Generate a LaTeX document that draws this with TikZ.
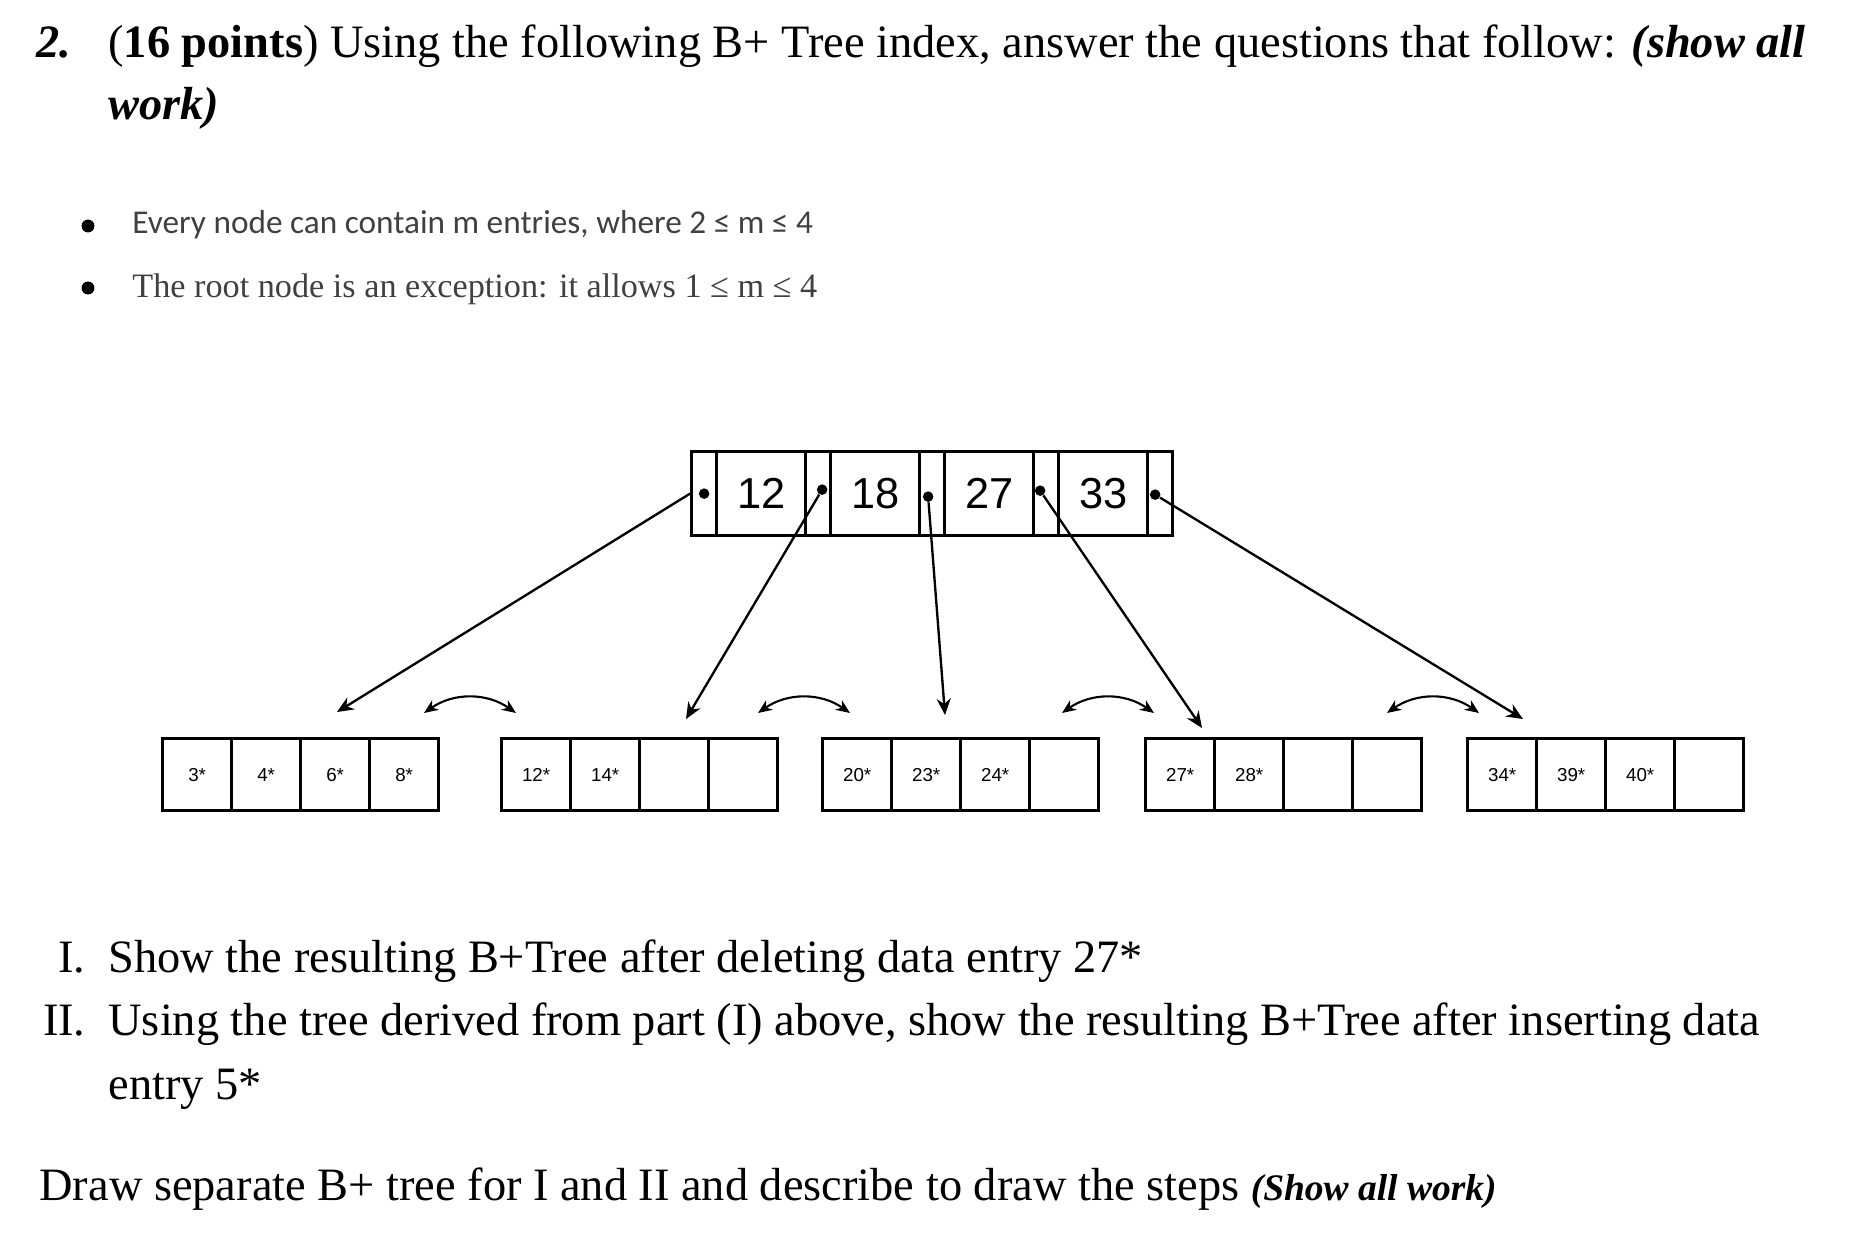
\documentclass[tikz,border=0pt]{standalone}
\usepackage{fontspec}
\setmainfont{Liberation Serif}
\newfontfamily\arialf{Liberation Sans}
\newfontfamily\calf{Carlito}
\usetikzlibrary{arrows.meta,calc}
\begin{document}
\begin{tikzpicture}[x=0.015cm,y=-0.015cm,
  txt/.style={anchor=base west,inner sep=0,font=\fontsize{19.8}{23}\selectfont},
  bul/.style={anchor=base west,inner sep=0,text=black!75,font=\fontsize{14.6}{17}\selectfont},
  cell/.style={draw,line width=1.4pt,minimum height=72*0.015cm,inner sep=0,anchor=north west,font=\arialf\fontsize{8}{9}\selectfont},
  rcell/.style={draw,line width=1.4pt,minimum height=84*0.015cm,inner sep=0,anchor=north west,font=\arialf\fontsize{18.5}{22}\selectfont},
  ptr/.style={-{Stealth[length=7pt,width=6pt]},line width=1pt},
  sib/.style={{Stealth[length=6pt,width=5pt]}-{Stealth[length=6pt,width=5pt]},line width=0.9pt},
  dot/.style={circle,fill,inner sep=0,minimum size=4.5pt}]
\useasboundingbox (0,0) rectangle (1866,1240);
% title
\node[txt,font=\fontsize{19.8}{23}\selectfont\bfseries\itshape] (n2) at (36,58) {2.};
\node[txt] (t1) at (108,58) {(\textbf{16 points}) Using the following B+ Tree index, answer the questions that follow: \textbf{\textit{(show all}}};
\node[txt] (t2) at (108,120) {\textbf{\textit{work)}}};
% bullets
\node[dot,minimum size=5.5pt] (b1) at (88,226) {};
\node[bul,font=\calf\fontsize{14.2}{17}\selectfont] (bt1) at (132,234) {Every node can contain m entries, where 2 ≤ m ≤ 4};
\node[dot,minimum size=5.5pt] (b2) at (88,288) {};
\node[bul] (bt2) at (132,297) {The root node is an exception: it allows 1 ≤ m ≤ 4};
% root node
\def\rx{690}
\foreach \i/\k in {0/12,1/18,2/27,3/33}{
  \node[rcell,minimum width=25*0.015cm] (p\i) at ({\rx+\i*114},450) {};
  \node[rcell,minimum width=89*0.015cm] (k\i) at ({\rx+25+\i*114},450) {\k};
}
\node[rcell,minimum width=25*0.015cm] (p4) at ({\rx+4*114},450) {};
\node[dot] (d0) at (p0.center) {};
\path (p1.center) ++(4,-4) node[dot] (d1) {};
\path (p2.center) ++(-4,3) node[dot] (d2) {};
\path (p3.center) ++(-6,-3) node[dot] (d3) {};
\path (p4.center) ++(-5,1) node[dot] (d4) {};
% leaves
\foreach \l/\x/\a/\b/\c/\d in {1/161/3*/4*/6*/8*, 2/500/12*/14*//, 3/821/20*/23*/24*/, 4/1144/27*/28*//, 5/1466/34*/39*/40*/}{
  \node[cell,minimum width=69*0.015cm] (l\l a) at (\x,737) {\a};
  \node[cell,minimum width=69*0.015cm] (l\l b) at (\x+69,737) {\b};
  \node[cell,minimum width=69*0.015cm] (l\l c) at (\x+138,737) {\c};
  \node[cell,minimum width=69*0.015cm] (l\l d) at (\x+207,737) {\d};
}
\coordinate (e1) at (337,712);
\coordinate (e2) at (686,719);
\coordinate (e3) at (945,715);
\coordinate (e4) at (1202,728);
\coordinate (e5) at (1523,719);
\draw[ptr] (p0.west|-d0) -- (e1);
\draw[ptr] (d1) -- (e2);
\draw[ptr] (d2) -- (e3);
\draw[ptr] (d3) -- (e4);
\draw[ptr] (d4) -- (e5);
\foreach \c/\n in {470/s1,804/s2,1108/s3,1433/s4}{
  \coordinate (\n a) at (\c-46,713);
  \coordinate (\n b) at (\c+46,713);
  \draw[sib] (\n a) to[bend left=35] (\n b);
}
% questions
\node[txt,anchor=base east] (q1n) at (86,972) {I.};
\node[txt] (q1) at (108,972) {Show the resulting B+Tree after deleting data entry 27*};
\node[txt,anchor=base east] (q2n) at (86,1035) {II.};
\node[txt] (q2) at (108,1035) {Using the tree derived from part (I) above, show the resulting B+Tree after inserting data};
\node[txt] (q3) at (108,1099) {entry 5*};
\node[txt] (q4) at (39,1200) {Draw separate B+ tree for I and II and describe to draw the steps \textbf{\textit{\fontsize{16}{18}\selectfont(Show all work)}}};
\end{tikzpicture}
\end{document}
